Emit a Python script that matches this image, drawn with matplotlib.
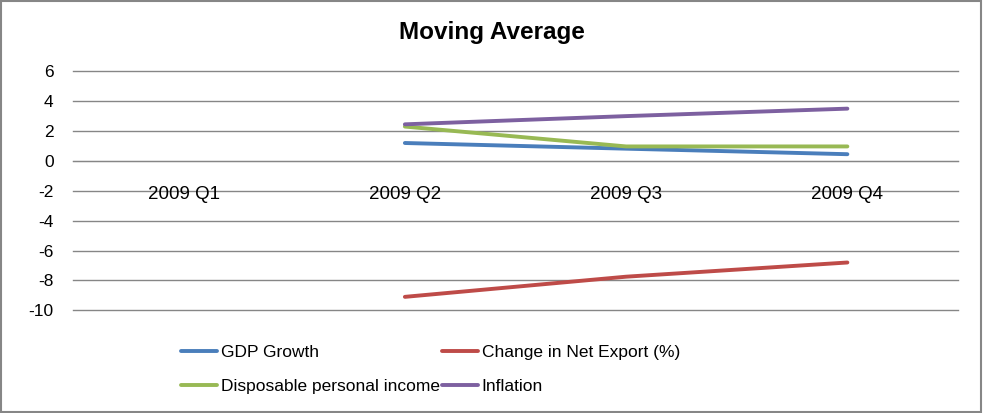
import matplotlib
matplotlib.use("Agg")
import matplotlib.pyplot as plt
from matplotlib.patches import Rectangle

plt.rcParams['font.family'] = ['Liberation Sans', 'DejaVu Sans']

categories = ["2009 Q1", "2009 Q2", "2009 Q3", "2009 Q4"]
gdp_growth = [None, 1.2, 0.82, 0.45]
net_export = [None, -9.1, -7.75, -6.8]
disposable_income = [None, 2.3, 0.97, 0.97]
inflation = [None, 2.45, 3.0, 3.5]
series_names = ["GDP Growth", "Change in Net Export (%)",
                "Disposable personal income", "Inflation"]
colors = ["#4A7EBB", "#BE4B48", "#98B954", "#7D60A0"]
yticks = [6, 4, 2, 0, -2, -4, -6, -8, -10]

fig = plt.figure(figsize=(9.83, 4.13), dpi=100)
ax = fig.add_axes([73/983, 1 - 310.3/413, (958 - 73)/983, (310.3 - 71.3)/413])

x = list(range(len(categories)))
handles = []
for vals, name, c in zip([gdp_growth, net_export, disposable_income, inflation], series_names, colors):
    xs = [xi for xi, v in zip(x, vals) if v is not None]
    ys = [v for v in vals if v is not None]
    h, = ax.plot(xs, ys, color=c, lw=2.8, solid_capstyle='round', zorder=3, label=name)
    handles.append(h)

for s in ['left', 'right', 'top']:
    ax.spines[s].set_visible(False)
ax.spines['bottom'].set_position(('data', 0))
ax.spines['bottom'].set_color('#868686')

ax.set_xlim(-0.5, 3.5)
ax.set_ylim(-10, 6)
ax.set_yticks(yticks)
ax.set_yticklabels([str(t) for t in yticks])
ax.set_xticks(x)
ax.set_xticklabels(categories)
ax.tick_params(axis='both', length=0)
ax.tick_params(axis='y', pad=14, labelsize=12.5)
ax.tick_params(axis='x', pad=18, labelsize=13.5)
for t in yticks:
    ax.axhline(t, color='#868686', lw=1.0, zorder=1, clip_on=False)

fig.text(0.5, 1 - 32/413, "Moving Average", ha='center', va='center',
         fontsize=17.5, fontweight='bold')

leg = fig.legend(handles=[handles[0], handles[2], handles[1], handles[3]], ncol=2,
                 loc='upper left', bbox_to_anchor=(181/983, 1 - 345/413),
                 frameon=False, fontsize=12.5, handlelength=2.1, handletextpad=0.2,
                 columnspacing=0.1, labelspacing=1.1, borderaxespad=0, borderpad=0)

fig.patches.append(Rectangle((0.001, 0.002), 0.997, 0.995, transform=fig.transFigure,
                             fill=False, edgecolor='#868686', lw=1.5))

fig.savefig("out.png", dpi=100)
